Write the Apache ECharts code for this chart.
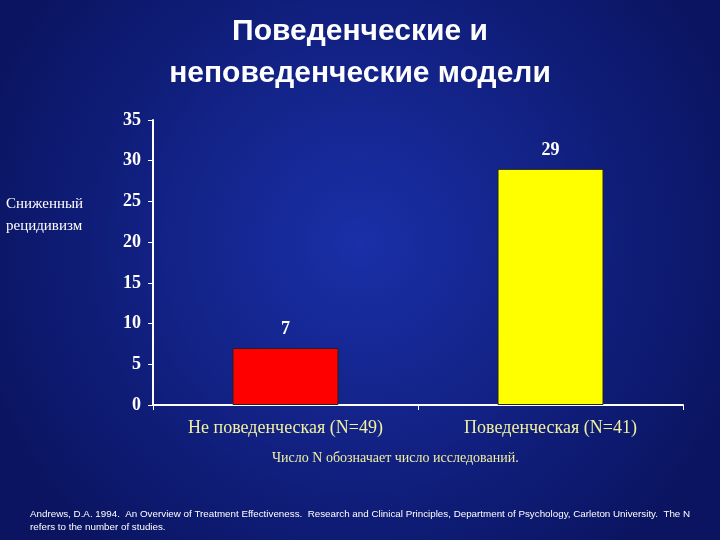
<!DOCTYPE html>
<html><head><meta charset="utf-8">
<script src="https://cdn.jsdelivr.net/npm/echarts@6/dist/echarts.min.js"></script>
<style>html,body{margin:0;padding:0}#c{width:720px;height:540px}</style>
</head><body><div id="c"></div>
<script>
const categories = ['Не поведенческая (N=49)', 'Поведенческая (N=41)'];
const values = [7, 29];
const colors = ['#ff0000', '#ffff00'];
const chart = echarts.init(document.getElementById('c'));
chart.setOption({
  backgroundColor: {type:'radial', x:0.5, y:0.45, r:0.75, colorStops:[{offset:0,color:'#1a2fa8'},{offset:1,color:'#0a1460'}]},
  title: {text:'Поведенческие и\nнеповеденческие модели', left:'center', top:6,
    textStyle:{color:'#ffffff', fontSize:30, fontWeight:'bold', fontFamily:'Liberation Sans', lineHeight:42}},
  grid: {left:153, right:37, top:120, bottom:135},
  xAxis: {type:'category', data:categories,
    axisLine:{lineStyle:{color:'#ffffff', width:2}}, axisTick:{show:true, alignWithLabel:false, lineStyle:{color:'#ffffff'}},
    axisLabel:{color:'#f0f0a0', fontSize:18, fontFamily:'Liberation Serif', margin:14}},
  yAxis: {type:'value', min:0, max:35, interval:5,
    axisLine:{show:true, lineStyle:{color:'#ffffff', width:2}}, axisTick:{show:true, lineStyle:{color:'#ffffff'}},
    splitLine:{show:false},
    axisLabel:{color:'#ffffff', fontSize:18, fontWeight:'bold', fontFamily:'Liberation Serif', margin:12}},
  series: [{type:'bar', barWidth:106,
    data: values.map((v,i)=>({value:v, itemStyle:{color:colors[i], borderColor:'#222', borderWidth:1}})),
    label:{show:true, position:'top', distance:10, color:'#ffffff', fontSize:18, fontWeight:'bold', fontFamily:'Liberation Serif'}}],
  graphic: [
    {type:'text', left:6, top:193, style:{text:'Сниженный\nрецидивизм', fill:'#ffffff', font:'15px "Liberation Serif"', lineHeight:22}},
    {type:'text', left:272, top:451, style:{text:'Число N обозначает число исследований.', fill:'#f0f0a0', font:'14px "Liberation Serif"'}},
    {type:'text', left:30, top:508, style:{text:'Andrews, D.A. 1994.  An Overview of Treatment Effectiveness.  Research and Clinical Principles, Department of Psychology, Carleton University.  The N\nrefers to the number of studies.', fill:'#ffffff', font:'9.8px "Liberation Sans"', lineHeight:13}}
  ]
});
</script></body></html>
